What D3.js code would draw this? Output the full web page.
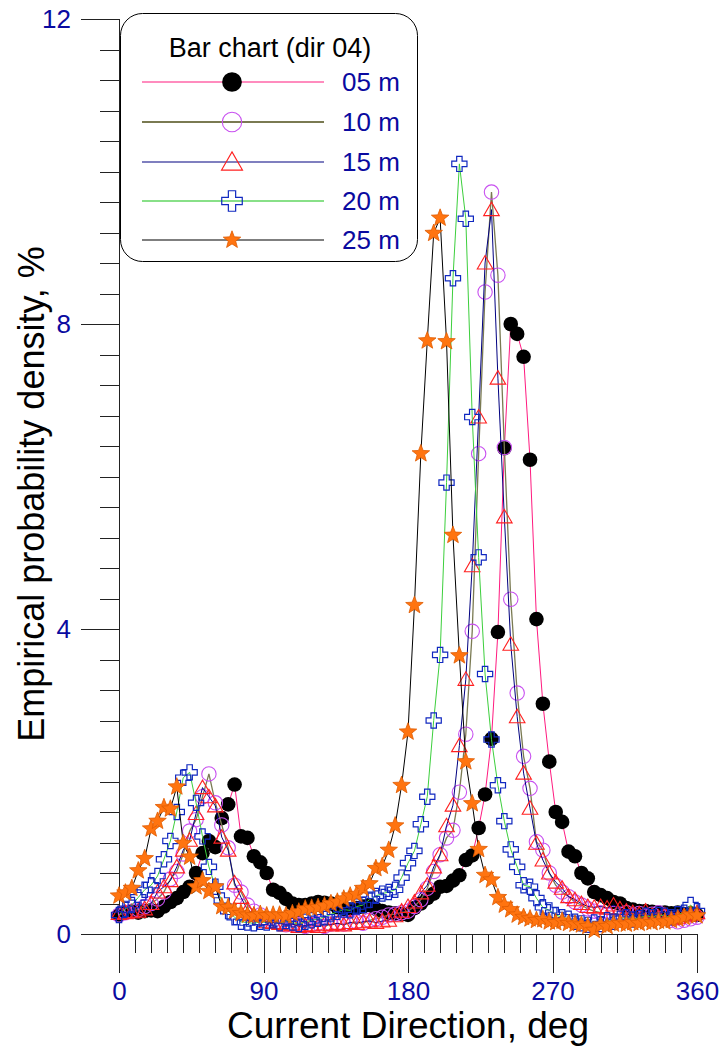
<!DOCTYPE html>
<html><head><meta charset="utf-8">
<script src="https://cdn.jsdelivr.net/npm/d3@7"></script>
<style>
body{margin:0;background:#fff}
svg{display:block}
text{font-family:Arial,"Liberation Sans",sans-serif}
</style>
</head><body>
<svg id="c" width="720" height="1046"></svg>
<script>
// ---------- data ----------
const directions = [0,4,8,12,16,20,24,28,32,36,40,44,48,52,56,60,64,68,72,76,
  80,84,88,92,96,100,104,108,112,116,120,124,128,132,136,140,144,148,152,156,
  160,164,168,172,176,180,184,188,192,196,200,204,208,212,216,220,224,228,232,236,
  240,244,248,252,256,260,264,268,272,276,280,284,288,292,296,300,304,308,312,316,
  320,324,328,332,336,340,344,348,352,356,360];

const s05m = [0.25,0.28,0.30,0.28,0.30,0.31,0.30,0.36,0.42,0.47,
  0.55,0.62,0.80,1.06,1.22,1.14,1.52,1.70,1.96,1.28,
  1.26,1.02,0.94,0.80,0.58,0.54,0.46,0.40,0.38,0.38,
  0.40,0.42,0.41,0.40,0.35,0.33,0.32,0.34,0.36,0.38,
  0.33,0.30,0.28,0.27,0.26,0.25,0.34,0.40,0.47,0.53,
  0.62,0.63,0.70,0.77,0.97,1.03,1.39,1.83,2.56,3.96,
  6.37,8.00,7.87,7.57,6.22,4.13,3.02,2.26,1.60,1.47,
  1.08,1.02,0.80,0.73,0.55,0.51,0.47,0.42,0.40,0.34,
  0.32,0.30,0.30,0.29,0.28,0.28,0.27,0.28,0.26,0.27,
  0.25];

const s10m = [0.25,0.28,0.30,0.32,0.36,0.40,0.46,0.55,0.72,0.82,
  1.05,1.35,1.50,1.80,2.10,1.72,1.43,1.13,0.64,0.55,
  0.38,0.30,0.25,0.20,0.18,0.15,0.12,0.13,0.12,0.10,
  0.12,0.14,0.10,0.13,0.14,0.13,0.15,0.16,0.14,0.18,
  0.20,0.22,0.25,0.26,0.28,0.30,0.36,0.45,0.60,0.82,
  1.04,1.26,1.36,1.86,2.62,3.97,6.30,8.42,9.73,8.64,
  6.38,4.39,3.16,2.33,1.91,1.21,1.10,0.80,0.64,0.55,
  0.49,0.42,0.38,0.33,0.30,0.28,0.25,0.27,0.26,0.28,
  0.25,0.27,0.24,0.26,0.28,0.22,0.18,0.16,0.18,0.20,
  0.22];

const s15m = [0.27,0.28,0.29,0.30,0.33,0.40,0.55,0.62,0.70,0.88,
  1.10,1.23,1.58,1.92,1.80,1.68,1.27,1.10,0.67,0.48,
  0.32,0.25,0.20,0.16,0.15,0.14,0.12,0.13,0.10,0.11,
  0.12,0.10,0.13,0.12,0.14,0.12,0.15,0.14,0.16,0.17,
  0.15,0.17,0.18,0.24,0.30,0.36,0.42,0.54,0.64,0.88,
  1.04,1.42,1.69,2.47,3.34,4.83,6.78,8.80,9.50,7.29,
  5.47,3.80,2.85,2.11,1.65,1.19,0.97,0.80,0.68,0.60,
  0.49,0.45,0.40,0.36,0.35,0.36,0.34,0.38,0.33,0.30,
  0.28,0.26,0.30,0.24,0.22,0.25,0.20,0.22,0.24,0.26,
  0.28];

const s20m = [0.25,0.33,0.38,0.48,0.58,0.64,0.76,0.98,1.22,1.60,
  2.05,2.12,1.72,1.28,0.88,0.62,0.44,0.30,0.22,0.16,
  0.15,0.14,0.16,0.15,0.18,0.14,0.17,0.15,0.13,0.16,
  0.18,0.20,0.22,0.26,0.29,0.32,0.31,0.36,0.38,0.45,
  0.50,0.53,0.55,0.58,0.74,0.93,1.09,1.44,1.80,2.80,
  3.66,5.92,8.60,10.10,9.38,6.78,4.94,3.41,2.55,1.95,
  1.48,1.11,0.88,0.64,0.62,0.47,0.35,0.31,0.25,0.22,
  0.20,0.16,0.14,0.12,0.15,0.13,0.18,0.16,0.20,0.22,
  0.19,0.21,0.24,0.22,0.25,0.24,0.22,0.26,0.28,0.38,
  0.30];

const s25m = [0.50,0.54,0.60,0.83,0.99,1.38,1.48,1.66,1.64,1.93,
  1.19,1.01,0.62,0.70,0.56,0.62,0.36,0.35,0.30,0.27,
  0.25,0.24,0.26,0.24,0.25,0.25,0.24,0.27,0.29,0.33,
  0.34,0.35,0.37,0.40,0.42,0.46,0.50,0.52,0.60,0.66,
  0.86,0.89,1.10,1.42,1.95,2.65,4.31,6.30,7.78,9.19,
  9.39,7.77,5.23,3.65,2.26,1.71,1.11,0.77,0.71,0.48,
  0.38,0.32,0.25,0.22,0.20,0.18,0.19,0.16,0.15,0.17,
  0.14,0.13,0.12,0.10,0.05,0.12,0.10,0.13,0.14,0.13,
  0.15,0.14,0.16,0.15,0.17,0.16,0.18,0.20,0.22,0.25,
  0.24];

const seriesNames = ["05 m","10 m","15 m","20 m","25 m"];
const xTickValues = [0,90,180,270,360];
const yTickValues = [0,4,8,12];
const legendTitle = "Bar chart (dir 04)";
const xTitle = "Current Direction, deg";
const yTitle = "Empirical probability density, %";

// ---------- styles ----------
const styles = [
  {line:"#ff1a7f", lw:1, sym:"dot"},
  {line:"#7a7a52", lw:1.3, sym:"circle", col:"#c850f0"},
  {line:"#000080", lw:1, sym:"tri", col:"#ff2020"},
  {line:"#3ccf3c", lw:1, legendLine:"#88e088", sym:"cross", col:"#1028c0"},
  {line:"#000000", lw:1, sym:"star", col:"#ff7410"}
];
const seriesValues = [s05m, s10m, s15m, s20m, s25m];

const svg = d3.select("#c");
const x = d3.scaleLinear().domain([0,360]).range([119,697]);
const y = d3.scaleLinear().domain([0,12]).range([934,19]);
const blue = "#0a0aa0";
const axisCol = "#222";

// ---------- axes ----------
const xMinor = d3.range(0, 361, 10);
const yMinor = d3.range(0, 12.01, 0.4).map(v => +v.toFixed(1));

const gxMinor = svg.append("g").attr("transform","translate(0,934)")
  .call(d3.axisBottom(x).tickValues(xMinor).tickSize(19).tickFormat(""));
const gx = svg.append("g").attr("transform","translate(0,934)")
  .call(d3.axisBottom(x).tickValues(xTickValues).tickSize(39).tickPadding(9).tickFormat(d3.format("d")));
const gyMinor = svg.append("g").attr("transform","translate(119,0)")
  .call(d3.axisLeft(y).tickValues(yMinor).tickSize(19).tickFormat(""));
const gy = svg.append("g").attr("transform","translate(119,0)")
  .call(d3.axisLeft(y).tickValues(yTickValues).tickSize(38).tickPadding(10).tickFormat(d3.format("d")));
[gxMinor,gx,gyMinor,gy].forEach(g=>{
  g.select(".domain").remove();
  g.selectAll("line").attr("stroke",axisCol).attr("stroke-width",1).attr("shape-rendering","crispEdges");
  g.selectAll("text").attr("fill",blue).attr("font-size",26).attr("font-family","Arial, 'Liberation Sans', sans-serif");
});
svg.append("line").attr("x1",81).attr("x2",x(360)).attr("y1",y(0)).attr("y2",y(0))
  .attr("stroke",axisCol).attr("shape-rendering","crispEdges");
svg.append("line").attr("x1",x(0)).attr("x2",x(0)).attr("y1",y(12)).attr("y2",y(0))
  .attr("stroke",axisCol).attr("shape-rendering","crispEdges");

svg.append("text").attr("x",408).attr("y",1038).attr("text-anchor","middle")
  .attr("font-size",37).attr("fill","#000").text(xTitle);
svg.append("text").attr("transform","translate(44,494) rotate(-90)").attr("text-anchor","middle")
  .attr("font-size",36).attr("fill","#000").text(yTitle);

// ---------- symbols ----------
function crossPath(s, a){
  return `M${-a},${-s}H${a}V${-a}H${s}V${a}H${a}V${s}H${-a}V${a}H${-s}V${-a}H${-a}Z`;
}
function starPath(R, r){
  let p = "";
  for(let i=0;i<10;i++){
    const rad = i%2===0 ? R : r;
    const ang = -Math.PI/2 + i*Math.PI/5;
    p += (i===0?"M":"L") + (rad*Math.cos(ang)).toFixed(2) + "," + (rad*Math.sin(ang)).toFixed(2);
  }
  return p + "Z";
}
function drawSymbol(g, st, k){
  k = k || 1;
  if(st.sym==="dot"){
    g.append("circle").attr("r",7.3*k).attr("fill","#000");
  } else if(st.sym==="circle"){
    g.append("circle").attr("r",7.2*k).attr("fill","none").attr("stroke",st.col).attr("stroke-width",1.1);
  } else if(st.sym==="tri"){
    g.append("path").attr("d",`M0,${-7.5*k}L${7.8*k},${6*k}L${-7.8*k},${6*k}Z`).attr("fill","none").attr("stroke",st.col).attr("stroke-width",1.1);
  } else if(st.sym==="cross"){
    g.append("path").attr("d",crossPath(7.6*k,2.7*k)).attr("fill","none").attr("stroke",st.col).attr("stroke-width",1.2);
  } else if(st.sym==="star"){
    g.append("path").attr("d",starPath(9.2*k,3.9*k)).attr("fill",st.col).attr("stroke","#e05a00").attr("stroke-width",0.8);
  }
}

// ---------- series ----------
const line = d3.line().x((d,i)=>x(directions[i])).y(d=>y(d));
seriesValues.forEach((vals, k)=>{
  const st = styles[k];
  const g = svg.append("g");
  g.append("path").attr("d", line(vals)).attr("fill","none").attr("stroke",st.line).attr("stroke-width",st.lw);
  vals.forEach((v,i)=>{
    const m = g.append("g").attr("transform",`translate(${x(directions[i])},${y(v)})`);
    drawSymbol(m, st);
  });
});

// ---------- legend ----------
const lg = svg.append("g");
lg.append("rect").attr("x",120.5).attr("y",13.5).attr("width",297).attr("height",248)
  .attr("rx",22).attr("ry",22).attr("fill","#fff").attr("stroke","#000").attr("stroke-width",1);
lg.append("text").attr("x",270).attr("y",57).attr("text-anchor","middle")
  .attr("font-size",27).attr("fill","#000").text(legendTitle);
const rowY = [82,122,162,201,240];
seriesNames.forEach((name,k)=>{
  const st = styles[k];
  lg.append("line").attr("x1",142).attr("x2",324).attr("y1",rowY[k]).attr("y2",rowY[k])
    .attr("stroke",st.legendLine||st.line).attr("stroke-width",k===1?2:(k===3?2:1.2));
  const m = lg.append("g").attr("transform",`translate(232,${rowY[k]})`);
  drawSymbol(m, st, st.sym==="star" ? 1.0 : 1.35);
  lg.append("text").attr("x",342).attr("y",rowY[k]+9).attr("font-size",26).attr("fill",blue).text(name);
});
</script>
</body></html>
